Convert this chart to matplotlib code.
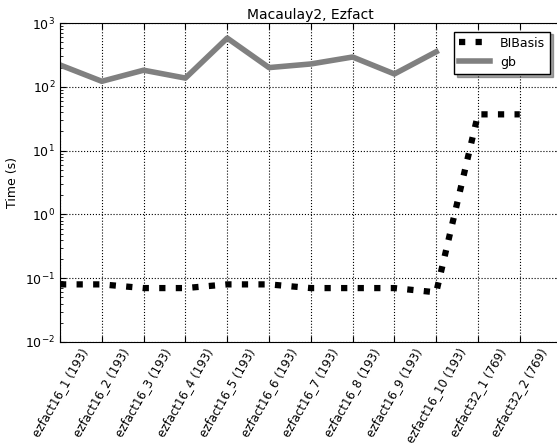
import numpy as np
import matplotlib
matplotlib.use("Agg")
import matplotlib.pyplot as plt

labels = ["ezfact16_1 (193)", "ezfact16_2 (193)", "ezfact16_3 (193)", "ezfact16_4 (193)",
          "ezfact16_5 (193)", "ezfact16_6 (193)", "ezfact16_7 (193)", "ezfact16_8 (193)",
          "ezfact16_9 (193)", "ezfact16_10 (193)", "ezfact32_1 (769)", "ezfact32_2 (769)"]
bibasis = [0.08, 0.08, 0.07, 0.07, 0.08, 0.08, 0.07, 0.07, 0.07, 0.06, 37, 37]
gb = [220, 122, 182, 137, 580, 200, 228, 293, 159, 354]

fig = plt.figure(figsize=(5.57, 4.46), dpi=100)
ax = fig.add_axes([60/557, 104/446, 12*41.8/557, 319/446])

x = np.arange(len(labels))
ax.plot(x, bibasis, ':', color='black', lw=4.5, label='BIBasis')
ax.plot(x[:len(gb)], gb, '-', color='gray', lw=4, label='gb')

ax.set_yscale('log')
ax.set_ylim(1e-2, 1e3)
ax.set_xlim(0, 12)
ax.set_xticks(x)
ax.set_xticklabels(labels, rotation=60, ha='center', fontsize=8.5)
ax.tick_params(axis='both', which='both', direction='in', top=True, right=True, labelsize=9)
ax.tick_params(axis='x', labelsize=8.5, pad=3)
ax.tick_params(which='major', length=4)
ax.tick_params(which='minor', length=2)
ax.grid(True, which='major', linestyle=':', color='black', lw=0.8)
ax.set_ylabel('Time (s)', fontsize=9)
ax.set_title('Macaulay2, Ezfact', fontsize=10, pad=3)

leg = ax.legend(loc='upper right', bbox_to_anchor=(0.985, 0.985), fontsize=9,
                fancybox=False, shadow=True, handlelength=2.5, borderaxespad=0.3)
leg.get_frame().set_edgecolor('black')
leg.get_frame().set_alpha(1)

fig.savefig('out.png', dpi=100)
